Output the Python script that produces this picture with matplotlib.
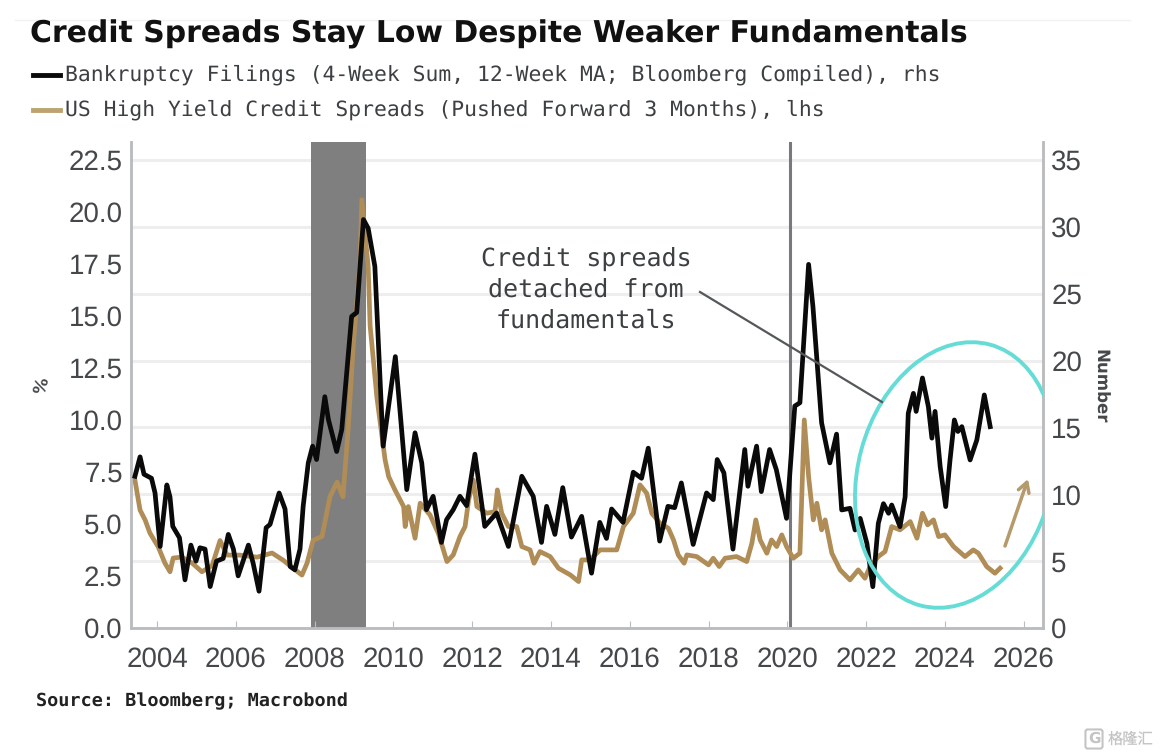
import matplotlib
matplotlib.use('Agg')
import matplotlib.pyplot as plt
from matplotlib.patches import Ellipse
from matplotlib.transforms import IdentityTransform

plt.rcParams['text.hinting'] = 'no_hinting'

# bankruptcy filings, rhs
black_x = [2003.44,2003.57,2003.67,2003.86,2003.95,2004.08,2004.25,2004.33,2004.40,2004.57,2004.71,2004.86,2004.99,2005.09,2005.22,2005.35,2005.51,2005.68,2005.81,2005.94,2006.06,2006.32,2006.44,2006.59,2006.77,2006.87,2007.10,2007.25,2007.38,2007.50,2007.63,2007.71,2007.84,2007.95,2008.05,2008.26,2008.35,2008.56,2008.69,2008.94,2009.07,2009.24,2009.36,2009.53,2009.74,2010.05,2010.34,2010.55,2010.72,2010.84,2011.01,2011.22,2011.35,2011.52,2011.69,2011.86,2012.07,2012.32,2012.62,2012.92,2013.26,2013.55,2013.76,2013.89,2014.10,2014.30,2014.52,2014.78,2015.03,2015.24,2015.41,2015.54,2015.83,2016.09,2016.30,2016.47,2016.76,2016.97,2017.14,2017.31,2017.61,2017.95,2018.12,2018.22,2018.39,2018.62,2018.92,2019.00,2019.22,2019.34,2019.55,2019.72,2019.98,2020.19,2020.32,2020.54,2020.65,2020.87,2021.08,2021.25,2021.38,2021.59,2021.72,2021.85,2022.02,2022.17,2022.31,2022.44,2022.57,2022.65,2022.86,2022.99,2023.07,2023.20,2023.27,2023.43,2023.58,2023.67,2023.75,2023.88,2024.02,2024.13,2024.24,2024.33,2024.43,2024.64,2024.81,2025.00,2025.15]
black_y = [11.35,12.8,11.5,11.2,10.1,6.1,10.7,9.8,7.6,6.75,3.6,6.2,5.0,6.0,5.9,3.1,5.0,5.2,7.0,5.9,3.9,6.2,4.85,2.75,7.5,7.75,10.1,8.9,4.6,4.35,5.9,9.1,12.35,13.6,12.6,17.3,15.6,13.2,14.85,23.3,23.6,30.55,29.9,27.05,13.6,20.3,10.35,14.6,12.35,8.85,9.85,6.4,8.1,8.85,9.85,9.15,13,7.6,8.6,6.1,11.35,9.85,6.4,9.1,7,10.5,6.8,8.35,4.1,7.9,6.7,8.9,7.9,11.65,11.2,13.45,6.5,9.1,9.0,10.85,6.25,10.1,9.6,12.6,11.6,5.9,13.35,10.6,13.6,10.2,13.35,11.85,8.2,16.6,16.85,27.2,24.05,15.35,12.35,14.5,8.83,8.95,7.33,8.2,6.33,3.09,7.83,9.3,8.58,9.2,7.58,9.8,16.06,17.55,16.2,18.7,16.56,14.2,16.2,12.07,9.08,12.57,15.56,14.7,15.06,12.57,14.06,17.43,15.06]

# high yield spreads, lhs
gold_x = [2003.44,2003.57,2003.70,2003.82,2004.03,2004.20,2004.33,2004.41,2004.63,2004.89,2005.14,2005.40,2005.60,2005.78,2006.10,2006.54,2006.92,2007.20,2007.45,2007.68,2007.81,2007.96,2008.19,2008.39,2008.57,2008.72,2008.85,2008.98,2009.15,2009.20,2009.36,2009.41,2009.58,2009.79,2009.88,2010.04,2010.26,2010.30,2010.38,2010.55,2010.68,2010.93,2011.14,2011.36,2011.52,2011.69,2011.82,2011.91,2012.03,2012.12,2012.37,2012.58,2012.64,2012.75,2012.92,2013.13,2013.26,2013.47,2013.57,2013.72,2013.98,2014.19,2014.49,2014.70,2014.78,2014.99,2015.25,2015.46,2015.67,2015.84,2016.09,2016.26,2016.43,2016.56,2016.77,2016.98,2017.11,2017.23,2017.38,2017.45,2017.70,2018.00,2018.12,2018.27,2018.42,2018.71,2018.97,2019.10,2019.20,2019.31,2019.48,2019.60,2019.73,2019.86,2019.98,2020.15,2020.32,2020.43,2020.54,2020.66,2020.75,2020.87,2020.96,2021.13,2021.34,2021.59,2021.80,2021.97,2022.10,2022.31,2022.48,2022.65,2022.86,2023.12,2023.29,2023.43,2023.56,2023.71,2023.84,2024.00,2024.22,2024.51,2024.72,2024.85,2025.06,2025.27,2025.40]
gold_y = [7.1,5.66,5.18,4.56,3.9,3.12,2.7,3.36,3.4,3.12,2.7,3.0,4.2,3.5,3.5,3.4,3.6,3.26,2.88,2.54,3.12,4.2,4.4,6.3,7.0,6.3,9.5,13.5,17.5,20.56,17.36,14.5,11.1,8.07,7.27,6.63,5.83,4.87,5.83,4.31,5.99,5.43,4.55,3.19,3.51,4.39,4.87,6.15,7.1,5.83,5.51,5.59,6.63,5.51,4.87,4.87,3.91,3.75,3.11,3.67,3.43,2.87,2.55,2.23,3.27,3.27,3.75,3.75,3.75,4.87,5.51,6.87,6.47,5.51,5.03,4.79,4.23,3.51,3.11,3.51,3.43,3.03,3.35,2.95,3.35,3.43,3.19,4.07,5.19,4.23,3.59,4.23,3.91,4.47,3.91,3.35,3.59,9.99,7.27,5.19,5.99,4.71,5.19,3.59,2.79,2.31,2.79,2.39,2.95,3.43,3.67,4.87,4.71,5.11,4.31,5.51,4.95,5.19,4.39,4.47,3.91,3.43,3.75,3.59,2.95,2.63,2.87]

lhs_ticks = [0,2.5,5,7.5,10,12.5,15,17.5,20,22.5]
rhs_ticks = [0,5,10,15,20,25,30,35]
year_ticks = list(range(2004,2028,2))

W,H = 1164,756
black = '#0a0a0a'
gold = '#b08d57'
cyan = '#66dcd6'
grey = '#b9bcc0'
tick_col = '#45484a'

fig = plt.figure(figsize=(W/100,H/100),dpi=100)
ax = fig.add_axes([131/W,(H-628)/H,(1043-131)/W,(628-142)/H])
ax2 = ax.twinx()

ax.set_xlim(2003.34,2026.49)
ax.set_ylim(0,(628-142)/20.83)
ax2.set_ylim(0,(628-142)/13.37)

ax2.set_zorder(ax.get_zorder()+1)
ax2.patch.set_visible(False)

# grid follows the right hand scale but has to stay behind the grey band
for v in rhs_ticks[1:]:
    ax.plot([0,1],[v,v],transform=ax2.get_yaxis_transform(),color='#eeeeee',linewidth=2.2,zorder=0)
ax.axvspan(2007.9,2009.3,color='#7f7f7f',linewidth=0,zorder=1)
ax.axvline(2020.07,color='#77797c',linewidth=2.2,zorder=1)

ax.plot(gold_x,gold_y,color=gold,linewidth=3.4,zorder=3,solid_joinstyle='round')
ax2.plot(black_x,black_y,color=black,linewidth=3.4,zorder=4,solid_joinstyle='round')

ax.set_yticks(lhs_ticks)
ax.set_yticklabels(['%.1f'%v for v in lhs_ticks])
ax2.set_yticks(rhs_ticks)
ax.set_xticks(year_ticks)
for a in (ax,ax2):
    a.tick_params(axis='y',length=0,labelsize=20,labelcolor=tick_col,pad=6)
    a.tick_params(axis='x',direction='in',length=5,color=grey,labelsize=20,labelcolor=tick_col,pad=13)
    a.spines['top'].set_visible(False)
    for s in ('left','right','bottom'):
        a.spines[s].set_color(grey)
        a.spines[s].set_linewidth(1.8)
for t in ax.get_xticklabels()+ax.get_yticklabels()+ax2.get_yticklabels():
    t.set_family('Liberation Sans')

# ring around the latest values, pixel based
ring = Ellipse((955,H-475),270,194,angle=75,fill=False,edgecolor=cyan,linewidth=2.8,
               transform=IdentityTransform(),zorder=6)
ax2.add_patch(ring)
ring.set_clip_path(ax2.patch)

def px(x,y):
    return x/W,1-y/H

fig.text(*px(30,34),'Credit Spreads Stay Low Despite Weaker Fundamentals',fontsize=21.5,
         fontweight='bold',family='DejaVu Sans',color='#111111',va='center')
fig.text(*px(65,75),'Bankruptcy Filings (4-Week Sum, 12-Week MA; Bloomberg Compiled), rhs',fontsize=15.4,
         family='DejaVu Sans Mono',color='#3d4042',va='center')
fig.text(*px(65,110),'US High Yield Credit Spreads (Pushed Forward 3 Months), lhs',fontsize=15.4,
         family='DejaVu Sans Mono',color='#3d4042',va='center')
fig.add_artist(plt.Line2D([33/W,60/W],[1-75/H,1-75/H],color=black,linewidth=3.5))
fig.add_artist(plt.Line2D([33/W,60/W],[1-110/H,1-110/H],color='#bca36f',linewidth=3.5))
fig.add_artist(plt.Line2D([15/W,1130/W],[1-20/H,1-20/H],color='#f2f2f2',linewidth=1))

fig.text(*px(586,290),'Credit spreads\ndetached from\nfundamentals',fontsize=18,family='DejaVu Sans Mono',
         color='#3d4042',ha='center',va='center',linespacing=1.35)
fig.add_artist(plt.Line2D([700/W,882/W],[1-292/H,1-402/H],color='#55585a',linewidth=1.6))

ax2.annotate('',xy=px(1028,479),xytext=px(1005,546),xycoords='figure fraction',textcoords='figure fraction',
             arrowprops=dict(arrowstyle='->,head_length=0.7,head_width=0.4',color='#b59a6c',linewidth=2.5,shrinkA=0,shrinkB=0),zorder=7)

fig.text(*px(1099,386),'Number',fontsize=12,fontweight='bold',family='DejaVu Sans',color='#45484a',
         rotation=270,ha='center',va='center')
fig.text(*px(42,386),'%',fontsize=12,fontweight='bold',family='DejaVu Sans',color='#45484a',
         rotation=75,ha='center',va='center')
fig.text(*px(36,701),'Source: Bloomberg; Macrobond',fontsize=13.3,fontweight='bold',family='DejaVu Sans Mono',
         color='#222222',va='center')
fig.text(*px(1131,739),'格隆汇',fontsize=11,family=['Noto Sans CJK SC','DejaVu Sans'],color='#c4c4c4',
         ha='center',va='center')
fig.text(*px(1094,739),'G',fontsize=11,fontweight='bold',family='DejaVu Sans',color='#c4c4c4',
         ha='center',va='center',bbox=dict(boxstyle='round,pad=0.15',fc='none',ec='#c4c4c4',lw=1.5))

fig.savefig('out.png',dpi=100)
